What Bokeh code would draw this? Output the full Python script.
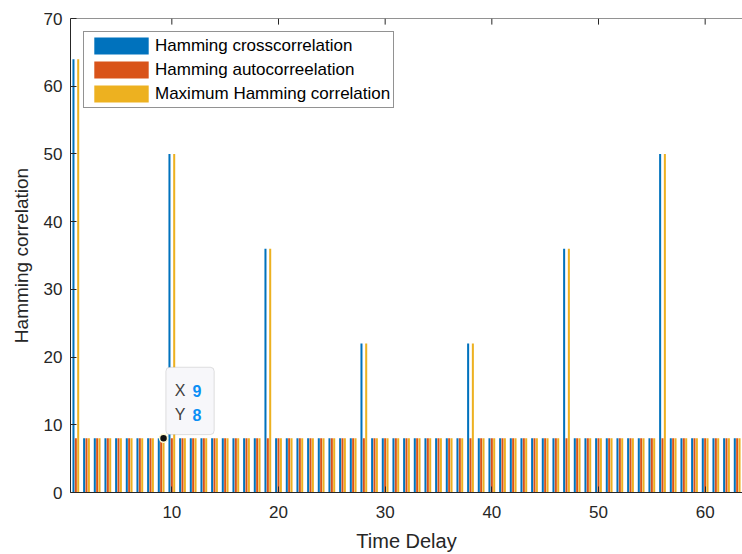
from bokeh.plotting import figure
from bokeh.models import (Range1d, FixedTicker, Legend, LegendItem,
                          ColumnDataSource, BoxAnnotation, Label, Span)
from bokeh.transform import dodge
from bokeh.embed import file_html
from bokeh.resources import INLINE

# ---------------- data ----------------
delays = list(range(1, 64))
peak_delays = [1, 10, 19, 28, 38, 47, 56]
peak_values = [64, 50, 36, 22, 22, 36, 50]
base_value = 8
cross = [peak_values[peak_delays.index(d)] if d in peak_delays else base_value for d in delays]
auto = [base_value for d in delays]
maximum = [max(c, a) for c, a in zip(cross, auto)]

series_names = ["Hamming crosscorrelation", "Hamming autocorreelation", "Maximum Hamming correlation"]
series_colors = ["#0072BD", "#D95319", "#EDB120"]
x_ticks = [10, 20, 30, 40, 50, 60]
y_ticks = [0, 10, 20, 30, 40, 50, 60, 70]
tip_x, tip_y = 9, 8

FONT = "Liberation Sans"
AX = "#262626"

src = ColumnDataSource(dict(x=delays, cross=cross, auto=auto, maximum=maximum))

p = figure(width=742, height=554, output_backend="svg", toolbar_location=None,
           x_range=Range1d(0.5, 63.5), y_range=Range1d(0, 70),
           min_border_left=70, min_border_top=18, min_border_bottom=61, min_border_right=0)
p.outline_line_color = None
p.grid.visible = False
p.background_fill_color = "white"

offsets = [-0.222, 0.0, 0.222]
fields = ["cross", "auto", "maximum"]
rends = []
for f, off, c in zip(fields, offsets, series_colors):
    r = p.vbar(x=dodge("x", off, range=p.x_range), top=f, width=0.19, bottom=0,
               source=src, fill_color=c, line_color=None)
    rends.append(r)

# axes styling
for ax in [p.xaxis[0], p.yaxis[0]]:
    ax.axis_line_color = AX
    ax.major_tick_line_color = AX
    ax.major_tick_in = 6
    ax.major_tick_out = 0
    ax.minor_tick_line_color = None
    ax.major_label_text_font = FONT
    ax.major_label_text_font_size = "17px"
    ax.major_label_text_color = AX
    ax.axis_label_text_font = FONT
    ax.axis_label_text_color = AX
    ax.axis_label_text_font_style = "normal"

p.xaxis[0].axis_label_text_font_size = "20px"
p.yaxis[0].axis_label_text_font_size = "19px"
p.xaxis[0].ticker = FixedTicker(ticks=x_ticks)
p.yaxis[0].ticker = FixedTicker(ticks=y_ticks)
p.xaxis[0].axis_label = "Time Delay"
p.yaxis[0].axis_label = "Hamming correlation"
p.xaxis[0].major_label_standoff = 13
p.yaxis[0].major_label_standoff = 8
p.xaxis[0].axis_label_standoff = 9
p.yaxis[0].axis_label_standoff = 9

# top box line with inward ticks
p.add_layout(Span(location=70, dimension="width", line_color=AX, line_width=1))
p.segment(x0=x_ticks, x1=x_ticks, y0=[70] * len(x_ticks), y1=[70 - 0.9] * len(x_ticks),
          line_color=AX, line_width=1)

# legend
legend = Legend(items=[LegendItem(label=n, renderers=[r]) for n, r in zip(series_names, rends)],
                location="top_left")
legend.label_text_font = FONT
legend.label_text_font_size = "17px"
legend.label_text_color = "black"
legend.glyph_width = 68
legend.glyph_height = 21
legend.label_height = 21
legend.spacing = 3
legend.padding = 3
legend.margin = 13
legend.label_standoff = 0
legend.border_line_color = AX
legend.border_line_width = 1
legend.background_fill_alpha = 1
p.add_layout(legend, "center")

# data tip
tip_px = tip_x + offsets[2]
box = BoxAnnotation(left=tip_px + 0.22, right=tip_px + 4.75, bottom=tip_y + 0.55, top=tip_y + 10.5,
                    fill_color="#f7f7fa", fill_alpha=1, line_color="#9a9a9a", line_width=1,
                    border_radius=4)
p.add_layout(box)
for lab, val, yy in [("X", tip_x, tip_y + 7.0), ("Y", tip_y, tip_y + 3.5)]:
    p.add_layout(Label(x=tip_px + 1.05, y=yy, text=lab, text_font=FONT, text_font_size="16px",
                       text_color="#404040", text_baseline="middle", text_align="left"))
    p.add_layout(Label(x=tip_px + 2.72, y=yy, text=str(val), text_font=FONT, text_font_size="16px",
                       text_color="#0a8ff5", text_font_style="bold",
                       text_baseline="middle", text_align="left"))
p.scatter(x=[tip_px], y=[tip_y], size=8, fill_color="#111111", line_color="#fff8d0", line_width=1.5)

open("out.html", "w").write(file_html(p, INLINE))
